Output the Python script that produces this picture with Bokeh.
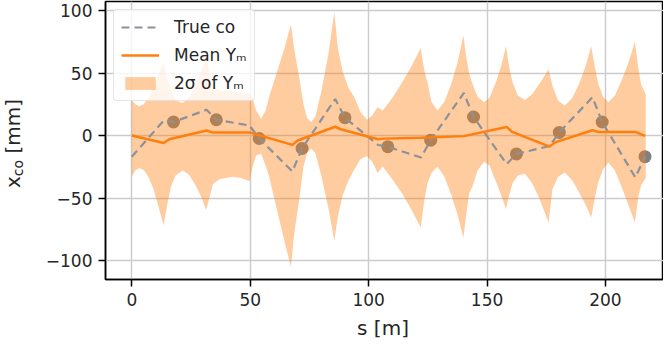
from bokeh.plotting import figure
from bokeh.models import Range1d, FixedTicker, Legend, LegendItem, Div
from bokeh.layouts import row, column
from bokeh.embed import file_html
from bokeh.resources import INLINE

# ---------------- data ----------------
x_ticks = [0, 50, 100, 150, 200]
y_ticks = [-100, -50, 0, 50, 100]
y_tick_labels = ["\u2212100", "\u221250", "0", "50", "100"]

# 2-sigma band of Y_m (upper / lower envelope)
band_s = [0, 1.5, 3.2, 5, 7, 9, 11, 13.4, 15, 16.6, 18.5, 21.5, 24, 27, 29.5, 31.4,
          33, 34.2, 37, 42.6, 46, 49.7, 51, 52.5, 54.6, 56.5, 58, 62, 64.5, 67.2,
          68.5, 70.7, 72.5, 74, 75.7, 77.5, 80, 83, 85.5, 87, 89, 91.5, 94, 96.5,
          99.3, 101.5, 103.8, 105.9, 110, 114, 118, 122, 123.5, 124.9, 126.5, 129.1,
          132, 135, 137.5, 140, 141.3, 142.5, 143.9, 146, 148.8, 151, 154, 156, 158,
          159.3, 160.8, 163, 166, 169, 172, 176, 177.6, 180, 182.8, 186, 189, 191.5,
          194, 195.5, 197, 199, 201.2, 204, 207, 210, 212.4, 213.8, 215, 217]
band_hi = [28.5, 25, 23.5, 25, 30, 38, 47, 59.5, 45, 35, 28, 26, 30, 40, 52, 65.3,
           48, 40, 36, 35, 34, 34, 30, 20, 13.4, 20, 31, 55, 70, 89,
           70, 46.4, 25, 14, 10.8, 15, 35, 65, 98.6, 70, 51.6, 38, 30.6, 19,
           12.6, 16, 22.7, 20, 30, 42, 55, 70, 52, 42, 27, 20,
           27, 42, 58, 80, 62, 49, 41, 31, 26.6, 30, 44, 56, 71.4,
           55, 42.4, 32, 28.5, 33, 41, 53, 39.8, 28, 24, 30, 42, 55,
           71.4, 55, 41, 31, 26.6, 32, 45, 60, 74.9, 55, 41, 33]
band_lo = [-32.7, -28, -26, -27.5, -33, -42, -55, -71.7, -55, -40.6, -32, -28, -31, -40, -50, -59.6,
           -48, -39, -35, -33, -34, -36.6, -25, -16, -14.5, -24, -33, -65, -85, -105,
           -80, -51, -25, -14, -10.3, -14, -32, -58, -84, -65, -48, -36, -27, -19,
           -16.3, -21, -30, -24.7, -35, -46, -59, -73.5, -52, -38, -30, -25,
           -33, -48, -63, -82, -62, -46, -40.6, -28, -21, -24, -38, -48, -59,
           -48, -38, -32, -30.6, -38, -50, -69.6, -43, -33, -29.5, -36, -46, -55,
           -65.6, -50, -37, -27, -21.6, -28, -42, -57, -69.6, -50, -40, -34]

# true closed orbit (vertices)
true_s = [0, 13.5, 17.6, 31.6, 35.7, 49.7, 53.8, 67.8, 71.9, 85.9, 90.0, 104.0, 108.1,
          122.1, 126.2, 140.2, 144.3, 158.3, 162.4, 176.4, 180.5, 194.5, 198.6, 212.6, 216.7]
true_x = [-17, 12, 10.8, 20.6, 12.6, 8, -2.4, -28.7, -10.3, 29.2, 14.2, -7.6, -9,
          -17.6, -3.7, 34, 14.8, -22.9, -14.7, -8.4, 2.5, 30.6, 10.8, -33.5, -16.9]

# measurements at BPMs
bpm_s = [17.6, 35.7, 53.8, 71.9, 90.0, 108.1, 126.2, 144.3, 162.4, 180.5, 198.6, 216.7]
bpm_x = [10.8, 12.6, -2.4, -10.3, 14.2, -9, -3.7, 14.8, -14.7, 2.5, 10.8, -16.9]

# mean of Y_m
mean_s = [0, 13.5, 15.8, 31.6, 33.9, 49.7, 67.8, 70.1, 85.9, 88.2, 104.0, 106.3, 122.1,
          140.2, 158.3, 160.6, 176.4, 178.7, 194.5, 196.8, 212.6, 216.7]
mean_x = [0, -6, -3, 4, 2.5, 2.5, -7.5, -4, 7, 5, -3, -2.5, -1.8,
          -0.5, 6.8, 2.9, -8.9, -5.5, 4.2, 2.9, 2.9, -0.3]

# ---------------- figure ----------------
FONT = "DejaVu Sans"
TXT = "#262626"

p = figure(width=623, height=313, output_backend="svg", toolbar_location=None,
           x_range=Range1d(-11.1, 224.5), y_range=Range1d(-115.2, 107.2),
           min_border_left=65, min_border_right=0, min_border_top=1, min_border_bottom=34)
p.background_fill_color = "white"
p.border_fill_color = "white"
p.outline_line_color = "black"
p.outline_line_width = 1.5

for g in (p.xgrid, p.ygrid):
    g.grid_line_color = "#cccccc"
    g.grid_line_width = 1.5
p.xgrid.ticker = FixedTicker(ticks=x_ticks)
p.ygrid.ticker = FixedTicker(ticks=y_ticks)

for ax in (p.xaxis, p.yaxis):
    ax.axis_line_color = "black"
    ax.axis_line_width = 1.5
    ax.major_tick_line_color = "black"
    ax.major_tick_line_width = 1.5
    ax.major_tick_out = 7
    ax.major_tick_in = 0
    ax.minor_tick_line_color = None
    ax.major_label_text_font = FONT
    ax.major_label_text_font_size = "17px"
    ax.major_label_text_color = TXT
    ax.major_label_standoff = 6
p.xaxis.ticker = FixedTicker(ticks=x_ticks)
p.yaxis.ticker = FixedTicker(ticks=y_ticks)
p.yaxis.major_label_overrides = {t: l for t, l in zip(y_ticks, y_tick_labels)}

r_pts = p.scatter(bpm_s, bpm_x, size=13, fill_color="#808080", line_color=None)
r_band = p.varea(x=band_s, y1=band_lo, y2=band_hi, fill_color="#ff7f0e", fill_alpha=0.4)
r_true = p.line(true_s, true_x, line_color="#8c929a", line_width=2.2, line_dash="8 5")
r_mean = p.line(mean_s, mean_x, line_color="#ff7f0e", line_width=2.5)

legend = Legend(items=[LegendItem(label="True co", renderers=[r_true]),
                       LegendItem(label="Mean Y\u2098", renderers=[r_mean]),
                       LegendItem(label="2\u03c3 of Y\u2098", renderers=[r_band])],
                location="top_left")
legend.margin = 8
legend.padding = 7
legend.spacing = 8
legend.glyph_width = 38
legend.glyph_height = 16
legend.label_height = 20
legend.label_standoff = 15
legend.label_text_font = FONT
legend.label_text_font_size = "17px"
legend.label_text_color = TXT
legend.border_line_color = "#cccccc"
legend.border_line_width = 1.2
legend.background_fill_alpha = 0.8
if "border_radius" in legend.properties():
    legend.border_radius = 4
p.add_layout(legend)

# axis labels as real HTML text (subscript needs markup)
ylab = Div(width=30, height=278, text=(
    '<div style="width:30px;height:278px;display:flex;align-items:center;'
    'justify-content:flex-start;">'
    '<span style="writing-mode:vertical-rl;transform:rotate(180deg);margin-left:-2px;'
    "font-family:'DejaVu Sans';font-size:20px;line-height:1;color:#262626;"
    'white-space:nowrap;">x<sub style="font-size:14px;line-height:1;">co</sub> [mm]</span></div>'))
xlab = Div(width=653, height=17, text=(
    '<div style="width:653px;height:17px;box-sizing:border-box;padding-left:103px;'
    "text-align:center;font-family:'DejaVu Sans';font-size:20px;line-height:21px;"
    'color:#262626;white-space:nowrap;">s [m]</div>'))

layout = column(row(ylab, p, spacing=0), xlab, spacing=0)

open("out.html", "w").write(file_html(layout, INLINE))
